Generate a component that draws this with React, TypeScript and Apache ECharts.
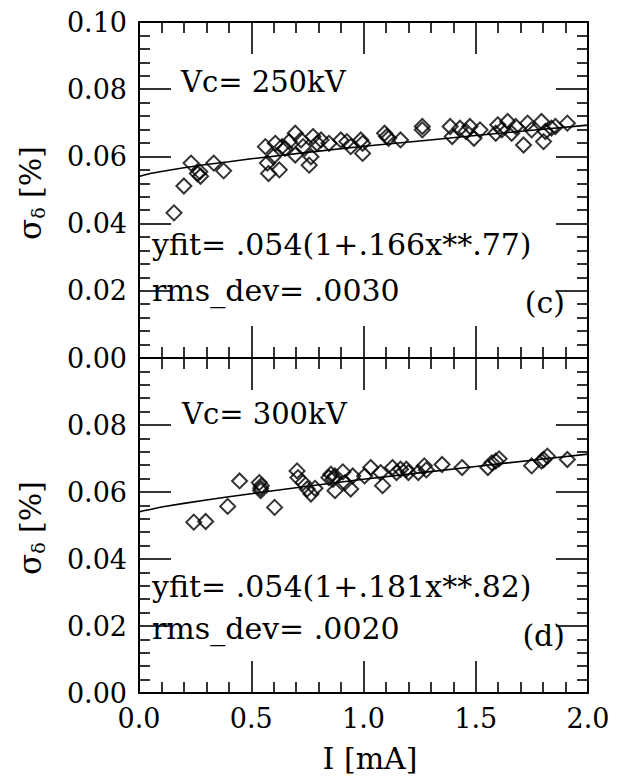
import { useEffect, useRef } from "react";
import * as echarts from "echarts";

// Panel (c): Vc = 250 kV
const currentC = [
  0.156, 0.2, 0.232, 0.26, 0.274, 0.271, 0.333, 0.377,
  0.563, 0.572, 0.577, 0.598, 0.607, 0.625, 0.637, 0.651, 0.669, 0.696, 0.696,
  0.722, 0.731, 0.758, 0.766, 0.775, 0.793, 0.811, 0.846, 0.899, 0.926, 0.943,
  0.988, 0.996, 0.996, 1.094, 1.112, 1.103, 1.165, 1.262, 1.262,
  1.386, 1.395, 1.43, 1.457, 1.474, 1.492, 1.519, 1.589, 1.598, 1.616, 1.642,
  1.66, 1.678, 1.713, 1.731, 1.749, 1.793, 1.802, 1.81, 1.837, 1.855, 1.908,
];
const sigmaC = [
  0.0432, 0.0512, 0.058, 0.0549, 0.0541, 0.0554, 0.058, 0.0557,
  0.0629, 0.058, 0.0549, 0.0599, 0.0639, 0.056, 0.0629, 0.0624, 0.0644, 0.0669, 0.0604,
  0.0649, 0.0629, 0.0574, 0.0599, 0.0659, 0.0639, 0.0649, 0.0639, 0.0649, 0.0644, 0.0629,
  0.0649, 0.0609, 0.0639, 0.0669, 0.0654, 0.0659, 0.0649, 0.0689, 0.0679,
  0.0689, 0.0659, 0.0684, 0.0674, 0.0689, 0.0654, 0.0679, 0.0669, 0.0694, 0.0679, 0.0704,
  0.0669, 0.0689, 0.0634, 0.0699, 0.0679, 0.0704, 0.0644, 0.0674, 0.0684, 0.0689, 0.0699,
];

// Panel (d): Vc = 300 kV
const currentD = [
  0.244, 0.297, 0.395, 0.448, 0.536, 0.542, 0.542, 0.545, 0.604,
  0.704, 0.708, 0.731, 0.749, 0.766, 0.784, 0.846, 0.855, 0.864, 0.873, 0.873,
  0.908, 0.917, 0.943, 0.952, 1.005, 1.032, 1.076, 1.085, 1.129, 1.147, 1.165,
  1.191, 1.2, 1.244, 1.271, 1.28, 1.35, 1.439, 1.554, 1.572, 1.589, 1.604,
  1.749, 1.793, 1.802, 1.819, 1.908,
];
const sigmaD = [
  0.051, 0.0512, 0.0557, 0.0633, 0.0628, 0.0611, 0.0604, 0.0619, 0.0554,
  0.0663, 0.0643, 0.0628, 0.0609, 0.0594, 0.0611, 0.0643, 0.0653, 0.0638, 0.0648, 0.0604,
  0.066, 0.0628, 0.0609, 0.0648, 0.0648, 0.0673, 0.0658, 0.0619, 0.0673, 0.0658, 0.0668,
  0.0668, 0.0658, 0.0658, 0.0678, 0.0666, 0.0682, 0.0673, 0.0673, 0.0687, 0.0692, 0.0699,
  0.0678, 0.0692, 0.0697, 0.0707, 0.0697,
];

// Fit curves
const fitX = [0, 0.02, 0.05, 0.1, 0.2, 0.3, 0.4, 0.5, 0.75, 1, 1.25, 1.5, 1.75, 2];
const fitC = [0.054, 0.0544, 0.0549, 0.0555, 0.0566, 0.0576, 0.0584, 0.0593, 0.0612, 0.063, 0.0646, 0.0662, 0.0678, 0.0693];
const fitD = [0.054, 0.0544, 0.0548, 0.0555, 0.0566, 0.0576, 0.0586, 0.0595, 0.0617, 0.0638, 0.0657, 0.0676, 0.0695, 0.0713];

const xTicks = [0, 0.5, 1.0, 1.5, 2.0];
const yTicks = [0, 0.02, 0.04, 0.06, 0.08, 0.1];

const FONT = '"DejaVu Serif"';
const FS = 27;

const TOP_RECT = { left: 139, top: 22, width: 449, height: 336 };
const BOT_RECT = { left: 139, top: 358, width: 449, height: 335 };

const zip = (a: number[], b: number[]) => a.map((v, i) => [v, b[i]]);

const axisParts = () => ({
  axisLine: { show: true, onZero: false, lineStyle: { color: "#000", width: 2 } },
  axisTick: { show: true, inside: true, length: 32, lineStyle: { color: "#000", width: 1.6 } },
  minorTick: { show: true, splitNumber: 5, length: 11, lineStyle: { color: "#000", width: 1.6 } },
  splitLine: { show: false },
});

const xAxisOf = (mirror: boolean, label: boolean) => ({
  type: "value",
  ...(mirror ? { position: "top" } : {}),
  min: xTicks[0],
  max: xTicks[xTicks.length - 1],
  interval: 0.5,
  ...axisParts(),
  axisLabel: label
    ? { show: true, margin: 12, fontFamily: FONT, fontSize: FS, color: "#000", formatter: (v: number) => v.toFixed(1) }
    : { show: false },
});

const yAxisOf = (mirror: boolean, label: boolean, showMax: boolean) => ({
  type: "value",
  ...(mirror ? { position: "right" } : {}),
  min: yTicks[0],
  max: yTicks[yTicks.length - 1],
  interval: 0.02,
  ...axisParts(),
  axisLabel: label
    ? {
        show: true,
        margin: 12,
        fontFamily: FONT,
        fontSize: FS,
        color: "#000",
        showMaxLabel: showMax,
        formatter: (v: number) => v.toFixed(2),
      }
    : { show: false },
});

const seriesOf = (xs: number[], ys: number[], fit: number[]) => [
  {
    type: "line",
    data: zip(fitX, fit),
    symbol: "none",
    lineStyle: { color: "#000", width: 1.6 },
    silent: true,
  },
  {
    type: "scatter",
    data: zip(xs, ys),
    symbol: "diamond",
    symbolSize: [15, 15],
    itemStyle: { color: "rgba(255,255,255,0)", borderColor: "#000", borderWidth: 2 },
    silent: true,
  },
];

const txt = (text: string, x: number, y: number, align = "left", size = FS) => ({
  type: "text",
  x,
  y,
  silent: true,
  style: {
    text,
    fill: "#000",
    font: `${size}px ${FONT}`,
    textAlign: align,
    textVerticalAlign: "middle",
  },
});

const yName = (y: number) => ({
  type: "text",
  x: 30,
  y,
  rotation: Math.PI / 2,
  silent: true,
  style: {
    text: "{s|σ}{d|δ}{n| [%]}",
    fill: "#000",
    textAlign: "center",
    textVerticalAlign: "middle",
    rich: {
      s: { fontFamily: FONT, fontSize: 31, lineHeight: 34, verticalAlign: "middle" },
      d: { fontFamily: FONT, fontSize: 19, lineHeight: 34, verticalAlign: "bottom" },
      n: { fontFamily: FONT, fontSize: 30, lineHeight: 34, verticalAlign: "middle" },
    },
  },
});

const layers: any[] = [
  // top panel: main axes + data
  {
    animation: false,
    grid: { ...TOP_RECT },
    xAxis: xAxisOf(false, false),
    yAxis: yAxisOf(false, true, true),
    series: seriesOf(currentC, sigmaC, fitC),
  },
  // top panel: mirror (top / right) axes
  {
    animation: false,
    grid: { ...TOP_RECT },
    xAxis: xAxisOf(true, false),
    yAxis: yAxisOf(true, false, true),
    series: [],
  },
  // bottom panel: main axes + data
  {
    animation: false,
    grid: { ...BOT_RECT },
    xAxis: xAxisOf(false, true),
    yAxis: yAxisOf(false, true, false),
    series: seriesOf(currentD, sigmaD, fitD),
  },
  // bottom panel: mirror axes
  {
    animation: false,
    grid: { ...BOT_RECT },
    xAxis: xAxisOf(true, false),
    yAxis: yAxisOf(true, false, false),
    series: [],
  },
  // annotation texts
  {
    animation: false,
    graphic: [
      txt("Vc= 250kV", 181, 82, "left", 29),
      txt("yfit= .054(1+.166x**.77)", 152, 244, "left", 30),
      txt("rms_dev= .0030", 152, 290, "left", 30),
      txt("(c)", 565, 302, "right", 30),
      txt("Vc= 300kV", 182, 414, "left", 29),
      txt("yfit= .054(1+.181x**.82)", 152, 586, "left", 30),
      txt("rms_dev= .0020", 152, 628, "left", 30),
      txt("(d)", 565, 635, "right", 30),
      txt("I [mA]", 370, 758, "center", 30),
      yName(193),
      yName(528),
    ],
  },
];

function Layer({ index }: { index: number }) {
  const ref = useRef<HTMLDivElement>(null);
  useEffect(() => {
    const chart = echarts.init(ref.current!, null, { renderer: "svg" });
    chart.setOption(layers[index]);
    return () => chart.dispose();
  }, [index]);
  return (
    <div
      ref={ref}
      style={{ position: "absolute", left: 0, top: 0, width: 618, height: 780, pointerEvents: "none" }}
    />
  );
}

export default function App() {
  return (
    <div style={{ position: "absolute", left: 0, top: 0, width: 618, height: 780, background: "#fff" }}>
      {layers.map((_, i) => (
        <Layer key={i} index={i} />
      ))}
    </div>
  );
}
